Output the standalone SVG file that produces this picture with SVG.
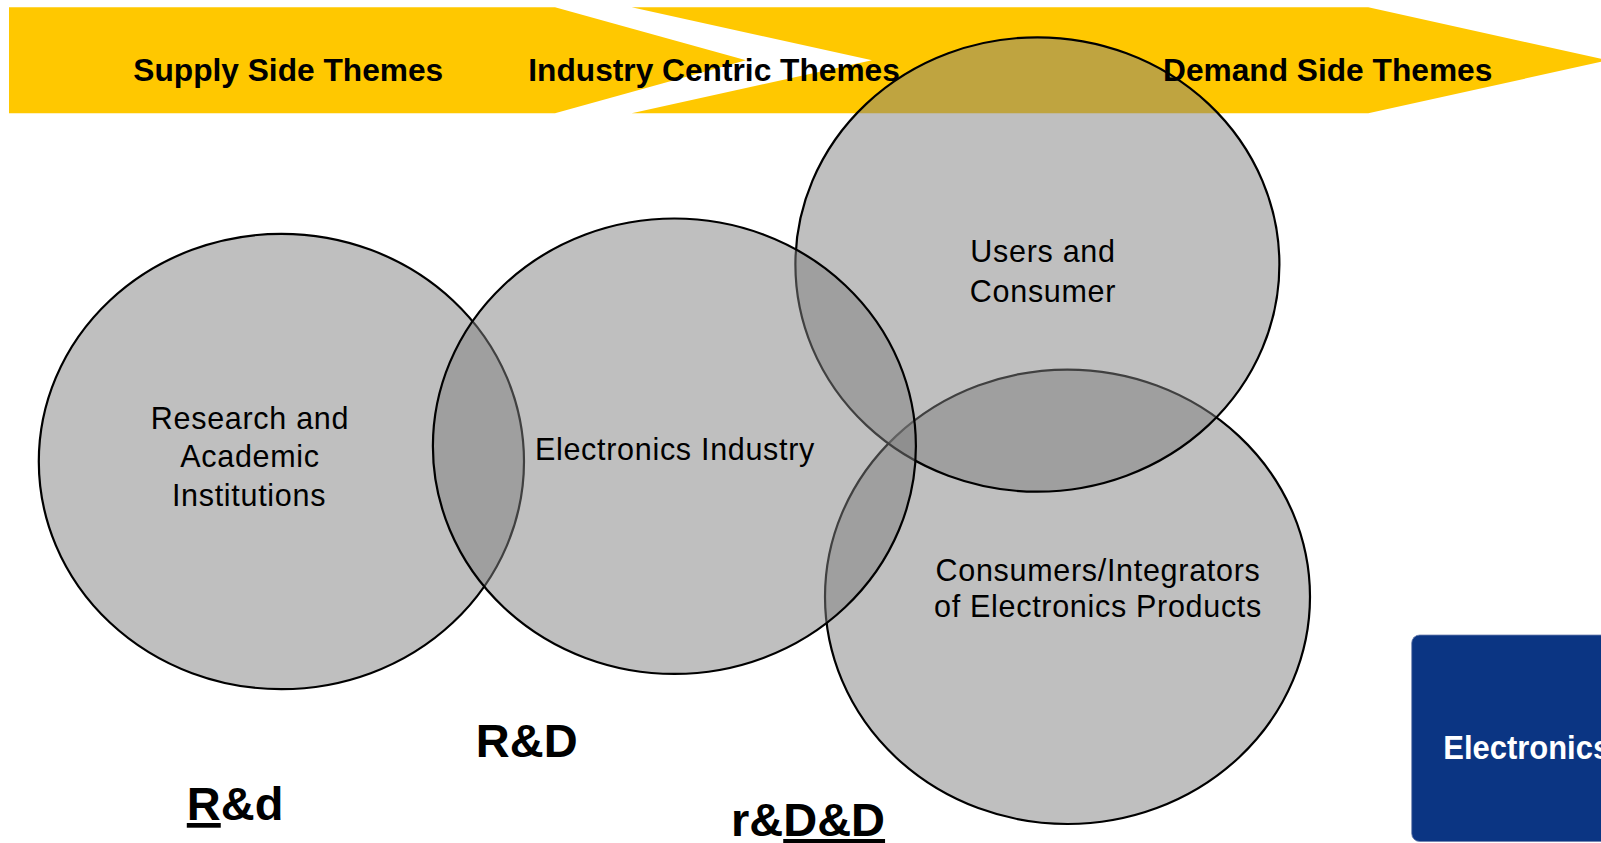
<svg xmlns="http://www.w3.org/2000/svg" width="1601" height="843" viewBox="0 0 1601 843">
<style>
.band{fill:#FFC800;}
.bt{font-family:"Liberation Sans",Arial,sans-serif;font-weight:bold;font-size:31.7px;fill:#000;}
.circ{fill:#808080;fill-opacity:0.5;stroke:#000;stroke-width:2.2;}
.ct{font-family:"Liberation Sans",Arial,sans-serif;font-size:30.5px;letter-spacing:0.7px;fill:#000;text-anchor:middle;}
.rd{font-family:"Liberation Sans",Arial,sans-serif;font-weight:bold;font-size:47px;fill:#000;}
.ul{text-decoration:underline;}
</style>
<rect width="1601" height="843" fill="#fff"/>
<g id="banner">
  <polygon class="band" points="9,7.3 555,7.3 746,60.3 555,113.3 9,113.3"/>
  <polygon class="band" points="631.7,7.3 1368.3,7.3 1608,60.3 1368.3,113.3 631.7,113.3 872,60.3"/>
</g>
<g id="circles">
  <g id="research"><ellipse class="circ" cx="281.4" cy="461.5" rx="242.6" ry="227.7"/></g>
  <g id="consumers-integrators"><ellipse class="circ" cx="1067.5" cy="596.8" rx="242.5" ry="227.2"/></g>
  <g id="users"><ellipse class="circ" cx="1037.4" cy="264.5" rx="242" ry="227.2"/></g>
  <g id="electronics-industry"><ellipse class="circ" cx="674.4" cy="446.2" rx="241.5" ry="227.7"/></g>
</g>
<g id="banner-labels">
  <text class="bt" x="133.3" y="81">Supply Side Themes</text>
  <text class="bt" x="528.3" y="81">Industry Centric Themes</text>
  <text class="bt" x="1163" y="81">Demand Side Themes</text>
</g>
<g id="circle-labels">
  <text class="ct" x="250" y="428.5">Research and</text>
  <text class="ct" x="250" y="466.5">Academic</text>
  <text class="ct" x="249" y="506">Institutions</text>
  <text class="ct" x="675" y="460">Electronics Industry</text>
  <text class="ct" x="1043" y="261.7">Users and</text>
  <text class="ct" x="1043" y="301.5">Consumer</text>
  <text class="ct" x="1098" y="580.5">Consumers/Integrators</text>
  <text class="ct" x="1098" y="617">of Electronics Products</text>
</g>
<g id="rd-labels">
  <text class="rd" x="475.8" y="756.6">R&amp;D</text>
  <text class="rd" x="186.8" y="820"><tspan class="ul">R</tspan>&amp;d</text>
  <text class="rd" x="731" y="836">r&amp;<tspan class="ul">D&amp;D</tspan></text>
</g>
<g id="electronics-box">
  <rect x="1411.7" y="635" width="220" height="206.5" rx="8" ry="8" fill="#0B3583" stroke="#6f82b0" stroke-width="0.8"/>
  <text x="1443.3" y="759.3" font-family="Liberation Sans, Arial, sans-serif" font-weight="bold" font-size="34" fill="#fff" textLength="166.8" lengthAdjust="spacingAndGlyphs">Electronics</text>
</g>
</svg>
